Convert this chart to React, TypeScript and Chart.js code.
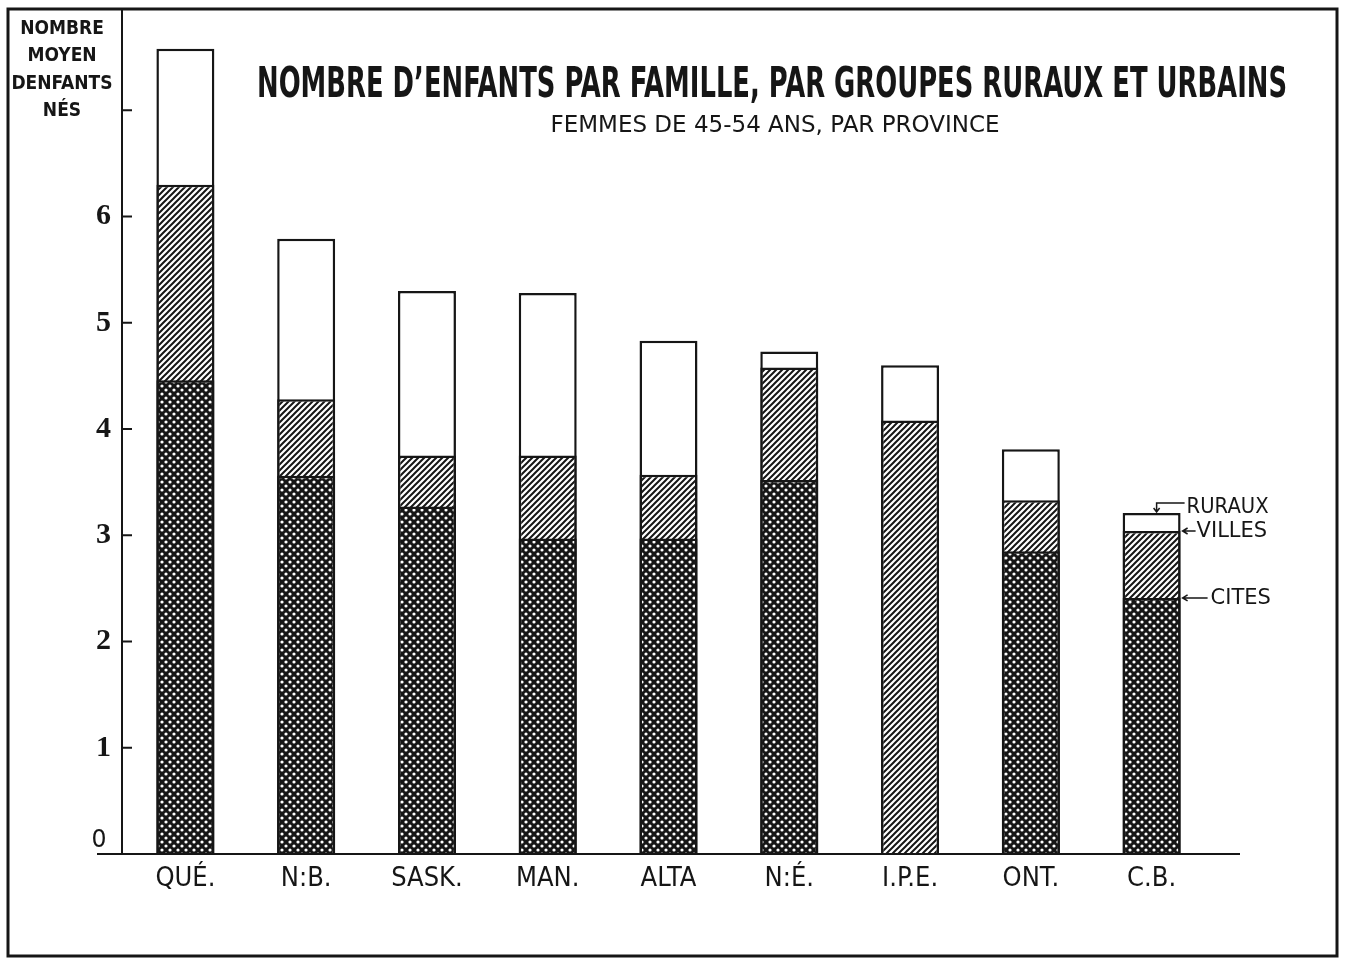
import React, { useEffect, useRef } from 'react';
import { Chart, registerables } from 'chart.js';

Chart.register(...registerables);

const provinces = ['QUÉ.', 'N:B.', 'SASK.', 'MAN.', 'ALTA', 'N:É.', 'I.P.E.', 'ONT.', 'C.B.'];
const ruraux = [7.58, 5.79, 5.3, 5.28, 4.83, 4.73, 4.6, 3.81, 3.21];
const villes = [6.3, 4.28, 3.75, 3.75, 3.57, 4.58, 4.08, 3.33, 3.04];
const cites: (number | null)[] = [4.46, 3.56, 3.27, 2.97, 2.97, 3.52, null, 2.85, 2.41];
const yTickMarks = [1, 2, 3, 4, 5, 6, 7];
const yTickLabels = [1, 2, 3, 4, 5, 6];
const yAxisTitle = ['NOMBRE', 'MOYEN', 'DENFANTS', 'NÉS'];
const title = 'NOMBRE D’ENFANTS PAR FAMILLE, PAR GROUPES RURAUX ET URBAINS';
const subtitle = 'FEMMES DE 45-54 ANS, PAR PROVINCE';
const seriesLabels = ['RURAUX', 'VILLES', 'CITES'];

const INK = '#161616';
const COND = '"DejaVu Sans Condensed", "Liberation Sans Narrow", "DejaVu Sans", sans-serif';
const SANS = '"DejaVu Sans", "Liberation Sans", sans-serif';
const SERIF = '"Liberation Serif", "DejaVu Serif", serif';

function makeHatch(ctx: CanvasRenderingContext2D) {
  const s = 6;
  const c = document.createElement('canvas');
  c.width = s;
  c.height = s;
  const x = c.getContext('2d')!;
  x.fillStyle = '#fff';
  x.fillRect(0, 0, s, s);
  x.strokeStyle = INK;
  x.lineWidth = 2;
  x.beginPath();
  x.moveTo(-1, s + 1);
  x.lineTo(s + 1, -1);
  x.moveTo(-2, 2);
  x.lineTo(2, -2);
  x.moveTo(s - 2, s + 2);
  x.lineTo(s + 2, s - 2);
  x.stroke();
  return ctx.createPattern(c, 'repeat');
}

function makeDots(ctx: CanvasRenderingContext2D) {
  const s = 8;
  const c = document.createElement('canvas');
  c.width = s;
  c.height = s;
  const x = c.getContext('2d')!;
  x.fillStyle = INK;
  x.fillRect(0, 0, s, s);
  x.fillStyle = '#fff';
  x.beginPath();
  x.arc(2, 2, 1.6, 0, Math.PI * 2);
  x.closePath();
  x.moveTo(7.6, 6);
  x.arc(6, 6, 1.6, 0, Math.PI * 2);
  x.fill();
  return ctx.createPattern(c, 'repeat');
}

const decorPlugin = {
  id: 'decor',
  afterDatasetsDraw(chart: any) {
    const ctx: CanvasRenderingContext2D = chart.ctx;
    const ca = chart.chartArea;
    const ys = chart.scales.y;
    const zeroY = ys.getPixelForValue(0);
    const axisX = ca.left - 3;
    ctx.save();
    ctx.strokeStyle = INK;
    ctx.fillStyle = INK;

    // frame
    ctx.lineWidth = 3;
    ctx.strokeRect(8, 9, 1329, 947);

    // axes
    ctx.lineWidth = 2;
    ctx.beginPath();
    ctx.moveTo(axisX, 9);
    ctx.lineTo(axisX, zeroY);
    ctx.moveTo(97, zeroY);
    ctx.lineTo(1240, zeroY);
    ctx.stroke();

    // tick marks on the inside of the axis
    ctx.beginPath();
    yTickMarks.forEach((v) => {
      const y = ys.getPixelForValue(v);
      ctx.moveTo(axisX, y);
      ctx.lineTo(axisX + 10, y);
    });
    ctx.stroke();

    // zero label sits above the base line
    ctx.font = `25px ${SANS}`;
    ctx.textAlign = 'center';
    ctx.textBaseline = 'middle';
    ctx.fillText('0', 99, zeroY - 14, 15);

    // y axis title
    ctx.font = `bold 19px ${COND}`;
    yAxisTitle.forEach((t, i) => {
      ctx.fillText(t, 62, 29 + i * 27.5, 108);
    });

    // title and subtitle
    ctx.font = `bold 43px ${COND}`;
    ctx.fillText(title, 772, 86, 1030);
    ctx.font = `23px ${SANS}`;
    ctx.fillText(subtitle, 775, 126, 452);

    // series labels beside last bar
    const last = provinces.length - 1;
    const rBar = chart.getDatasetMeta(2).data[last];
    const vBar = chart.getDatasetMeta(1).data[last];
    const cBar = chart.getDatasetMeta(0).data[last];
    const right = rBar.x + rBar.width / 2;
    ctx.font = `21px ${SANS}`;
    ctx.textAlign = 'left';
    ctx.lineWidth = 1.5;

    // RURAUX
    const rTextY = rBar.y - 5;
    ctx.fillText(seriesLabels[0], right + 6, rTextY, 82);
    const ax = rBar.x + 5;
    ctx.beginPath();
    ctx.moveTo(right + 4, rTextY - 5);
    ctx.lineTo(ax, rTextY - 5);
    ctx.lineTo(ax, rBar.y - 1);
    ctx.moveTo(ax - 3, rBar.y - 5);
    ctx.lineTo(ax, rBar.y - 1);
    ctx.lineTo(ax + 3, rBar.y - 5);
    ctx.stroke();

    // VILLES
    const vY = vBar.y;
    ctx.fillText(seriesLabels[1], right + 16, vY + 1, 78);
    ctx.beginPath();
    ctx.moveTo(right + 15, vY);
    ctx.lineTo(right + 2, vY);
    ctx.moveTo(right + 7, vY - 3);
    ctx.lineTo(right + 2, vY);
    ctx.lineTo(right + 7, vY + 3);
    ctx.stroke();

    // CITES
    const cY = cBar.y;
    ctx.fillText(seriesLabels[2], right + 30, cY + 1, 66);
    ctx.beginPath();
    ctx.moveTo(right + 27, cY);
    ctx.lineTo(right + 2, cY);
    ctx.moveTo(right + 7, cY - 3);
    ctx.lineTo(right + 2, cY);
    ctx.lineTo(right + 7, cY + 3);
    ctx.stroke();

    ctx.restore();
  },
};

export default function App() {
  const ref = useRef<HTMLCanvasElement>(null);

  useEffect(() => {
    const canvas = ref.current!;
    const ctx = canvas.getContext('2d')!;
    const hatch = makeHatch(ctx);
    const dots = makeDots(ctx);
    const common = {
      borderColor: INK,
      borderWidth: 2.5,
      borderSkipped: 'bottom' as const,
      barPercentage: 0.48,
      categoryPercentage: 1,
      grouped: false,
    };
    const chart = new Chart(ctx, {
      type: 'bar',
      data: {
        labels: provinces,
        datasets: [
          { label: seriesLabels[2], data: cites, backgroundColor: dots as any, ...common },
          { label: seriesLabels[1], data: villes, backgroundColor: hatch as any, ...common },
          { label: seriesLabels[0], data: ruraux, backgroundColor: '#ffffff', ...common },
        ],
      },
      options: {
        animation: false,
        responsive: false,
        events: [],
        layout: { padding: { left: 0, top: 4, right: 135, bottom: 0 } },
        plugins: {
          legend: { display: false },
          tooltip: { enabled: false },
          title: { display: false },
        },
        scales: {
          x: {
            type: 'category',
            offset: true,
            grid: { display: false, drawTicks: false },
            border: { display: false },
            ticks: {
              color: INK,
              font: { family: COND, size: 27 },
              padding: 9,
              maxRotation: 0,
              autoSkip: false,
            },
            afterFit: (s: any) => {
              s.height = 105;
              s.paddingLeft = 0;
              s.paddingRight = 0;
            },
          },
          y: {
            min: 0,
            max: 8,
            grid: { display: false, drawTicks: false },
            border: { display: false },
            ticks: {
              stepSize: 1,
              color: INK,
              font: { family: SERIF, size: 30, weight: 'bold' },
              padding: 14,
              callback: (v: any) => (yTickLabels.includes(Number(v)) ? String(v) : ''),
            },
            afterFit: (s: any) => {
              s.width = 125;
              s.paddingTop = 0;
              s.paddingBottom = 0;
            },
          },
        },
      },
      plugins: [decorPlugin],
    });
    return () => chart.destroy();
  }, []);

  return (
    <div style={{ position: 'absolute', left: 0, top: 0, width: 1347, height: 959, background: '#fff' }}>
      <canvas ref={ref} width={1347} height={959} style={{ display: 'block', width: 1347, height: 959 }} />
    </div>
  );
}
